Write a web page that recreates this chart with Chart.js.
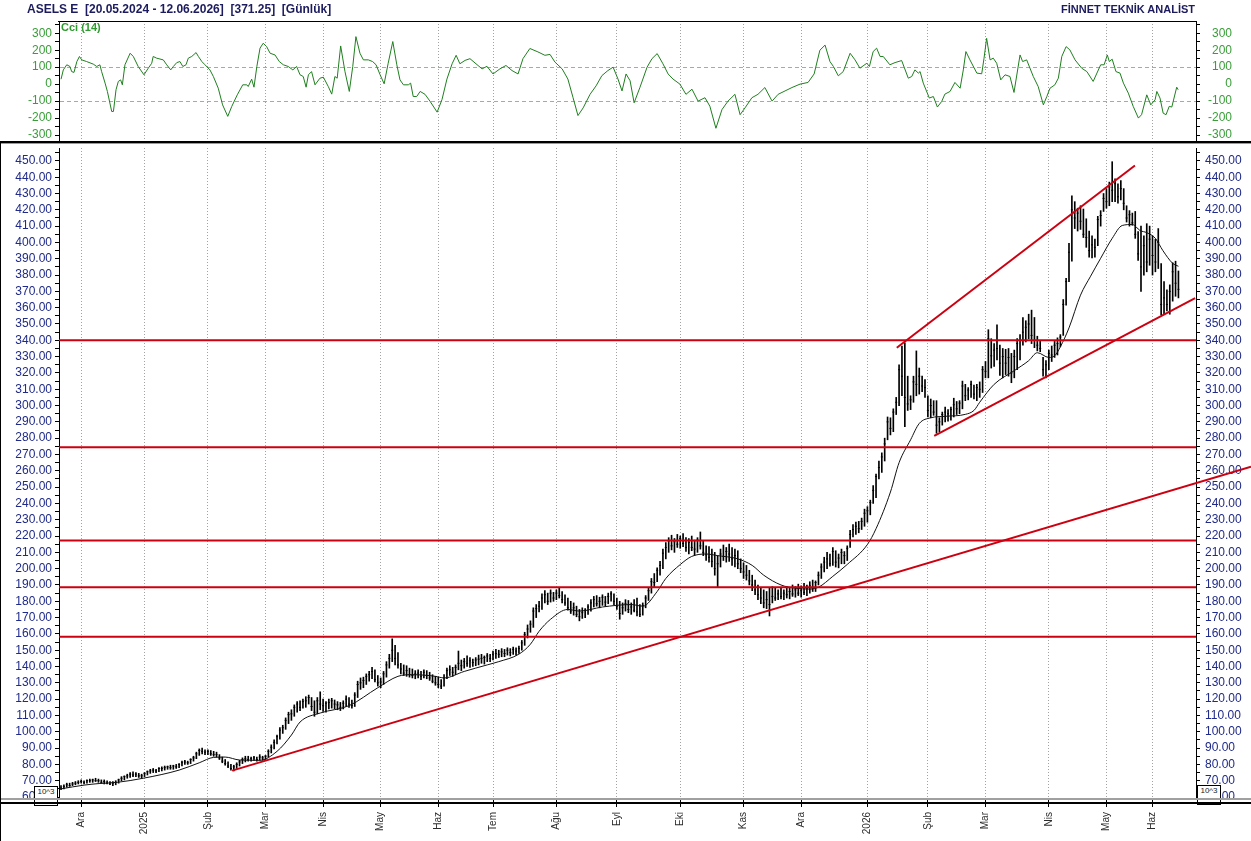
<!DOCTYPE html>
<html lang="tr">
<head>
<meta charset="utf-8">
<title>ASELS E</title>
<script src="https://cdn.jsdelivr.net/npm/chart.js@4.4.1/dist/chart.umd.min.js"></script>
<style>
  body { margin: 0; width: 1251px; height: 841px; overflow: hidden; position: relative; background: #fff; font-family: "Liberation Sans", Arial, sans-serif; }
  canvas, .line, .txt, .box { position: absolute; }
  #cci { left: 0; top: 0; }
  #price { left: 0; top: 143px; }
  .txt { font-weight: bold; white-space: pre; line-height: 14px; }
  .box { width: 22px; height: 18px; border: 1px solid #000; background: #fff; font-size: 8px; line-height: 9px; text-align: center; color: #222; }
</style>
</head>
<body>
<canvas id="cci" width="1251" height="141"></canvas>
<canvas id="price" width="1251" height="698"></canvas>

<div class="txt" style="left:27px;top:2px;font-size:12px;color:#1b1b5e">ASELS E  [20.05.2024 - 12.06.2026]  [371.25]  [Günlük]</div>
<div class="txt" style="right:56px;top:2px;font-size:11px;color:#1b1b5e">FİNNET TEKNİK ANALİST</div>
<div class="txt" style="left:61px;top:21px;font-size:11px;line-height:12px;color:#2f9a2f">Cci (14)</div>

<div class="line" style="left:58px;top:21px;width:1139px;height:1px;background:#000"></div>
<div class="line" style="left:0;top:141px;width:1251px;height:2px;background:#000"></div>
<div class="line" style="left:0;top:143px;width:1251px;height:1px;background:#9a9a9a"></div>
<div class="box" style="left:34px;top:786px">10^3</div>
<div class="box" style="left:1197px;top:785px">10^3</div>
<div class="line" style="left:0;top:798px;width:1251px;height:2px;background:#a0a0a0"></div>
<div class="line" style="left:0;top:802px;width:1251px;height:2px;background:#000"></div>
<div class="line" style="left:0;top:143px;width:1px;height:698px;background:#000"></div>

<script>
// trading-day index of the first bar of each month, and its label
const monthStarts = [7, 29, 51, 71, 91, 111, 131, 150, 172, 193, 215, 237, 257, 280, 301, 321, 343, 363, 379];
const monthLabels = ['Ara', '2025', 'Şub', 'Mar', 'Nis', 'May', 'Haz', 'Tem', 'Ağu', 'Eyl', 'Eki', 'Kas', 'Ara', '2026', 'Şub', 'Mar', 'Nis', 'May', 'Haz'];

// daily bars (one per trading day)
const highs = [
  67,67.5,68.5,68.5,69,69.5,70,70.5,70,70.5,
  71,71,71.5,71,70.5,70.5,70,69.5,69.5,70,
  71,72.5,73,74,75,75.5,75,74.5,74,75,
  76,77,77.5,77,78,78.5,79,79,79.5,79.5,
  80,80.5,82,82.5,82,83.5,85,87.5,89.5,90,
  89,89,88.5,88,87.5,86,84.5,83,81.5,80,
  79.5,81,82.5,84,85,85,84.5,85,84.5,86,
  85,85.5,89,92,95,98,102.5,104,108.5,112,
  113.5,116.5,118.5,119,120,121.5,122.5,121,119,121,
  124.5,120,118.5,120,120.5,119.5,118.5,118,119,122,
  121,119.5,124,131,133,133.5,135.5,137,139.5,138,
  134.5,133,137,143,147.5,157,153,148.5,142,141,
  140.5,139,138.5,137.5,138,137,138,137.5,136.5,135,
  134,133.5,132,135,139,140.5,139.5,141,149.5,144,
  145,146.5,145.5,144.5,145.5,147,147.5,146.5,148,147.5,
  149.5,150.5,150,151,150.5,151.5,151,152,151.5,152.5,
  156,161,165.5,168,176,178,180,184.5,186.5,185,
  187,185.5,187,188,186,184,182,180,179,177,
  175,176,175.5,178,181,183,183.5,182.5,184,183,
  185,186,184.5,182,180,179,181,180.5,179,181,
  182,178,179,183.5,188,194,197,200.5,204.5,212,
  216,219,220.5,218.5,221,220,221.5,219,218.5,220,
  217.5,219,222.5,217,214,213.5,212,210,208,212,
  214.5,213,215,213,212,211,206,203.5,202,199,
  196,193,190,188.5,187,186,188,189,188.5,187,
  188,187,189,188.5,190,189,190.5,189.5,191,190,
  192,193,192.5,198,203,207,210,209,213,211,
  209,212,210.5,214,223.5,227,228.5,229,231,236.5,
  238,242,251,258,266,271,280,293,292.5,298,
  305,325,336.5,338.5,318,306,318,333.5,323,318,
  316,306,304,303,303,292.5,296,299,297.5,299,
  304.5,302.5,303,315,313,311,315,312.5,313,314.5,
  324,327,346.5,341,338,349.5,337,335,334.5,335,
  332,334,341,343.5,354,352,356,358.5,354,342.5,
  340,329.5,327.5,334,336.5,340,341.5,343.5,365,378,
  399.5,428.5,425,421,422.5,420.5,414.5,407,404,402,
  416,419.5,430,433,437,449.5,439,436,438,433,
  422.5,419.5,418,419,406.7,410,404,411.5,410,404,
  402,408.5,387,376,371,374,387.5,388.5,382.5
];
const lows = [
  64.5,65,66,66.5,67,67.5,68,68.5,68,68.5,
  69,69,69.5,69,68.5,68,68,67.5,67,67.5,
  68.5,70,70.5,71.5,72,72.5,72.5,72,71.5,72.5,
  73.5,74.5,75,75,75.5,76,76.5,77,77,77,
  77.5,78,79,80,80,80.5,82,83.5,85.5,86.5,
  86,86,85.5,85,84.5,83,81,79.5,78,76.5,
  76,77.5,79,80.5,81.5,82,82,82.5,82,82.5,
  82.5,83,84.5,87,89.5,92.5,95.5,99,101.5,105,
  107,109.5,112,113,114.5,115,117,113,109.5,111,
  113.5,112.5,112,114,114.5,114,113.5,113,114,115.5,
  115,114.5,115.5,121,126,127,129,131,132.5,130.5,
  128,127,129,133.5,139,143,141,139,135.5,134.5,
  134,133.5,133,132.5,133,132,133,132.5,131.5,130,
  128.5,127,126.5,128,132.5,134.5,134,135,138,137.5,
  139,140,139.5,140,140.5,141,142,141.5,143,143,
  144,145,145.5,146,146,147,146.5,147.5,147,148,
  150,153,157.5,161,164,170,173.5,175,179,178,
  179.5,180,181,182,179,177.5,174.5,172.5,171.5,170.5,
  168,169.5,170,172,174,176.5,177,176,177.5,177,
  178.5,180,178,175,169,172,174,173,172,173.5,
  171,170.5,171.5,176,180.5,185,189,192,196,200,
  206,210,211.5,210,213,212.5,213.5,210.5,209,211,
  208,210,212,208,205,204,201,196,189,201,
  205,204,204.5,202,201,200,197.5,194,193,190,
  186.5,184,181,178.5,176,175.5,171,179,180.5,181,
  181.5,181,182,181.5,183,182.5,183.5,182.5,184,183.5,
  185,186,186,190,194,198,200,201.5,202,201,
  200.5,203,203,205,213,219.5,221,222,224,226,
  228.5,233,240,243.5,255,259,266,279,282,284,
  294.5,300,306,287,297,297.5,302,306,307,308.5,
  305,293,292.5,294,283,284,288,290,290.5,291,
  293,294.5,295,298,303,303.5,305,304,303,305,
  308,317,317,323,324,328,318.5,317,319,318,
  314,317,322,328,337,339,341,338,335.5,333.5,
  333,318,317,322,327,329.5,331,336,343,361.5,
  376,388.5,408.5,407,408,403,397,391,390.5,391,
  398,410,419,421,422.5,425,425,424,426,420,
  412.5,410,410.5,402.5,389,370,380,382,386,380,
  382,384,355.5,356,358,356,364,367,366
];
const closes = [
  65.5,66.5,67.5,67,68,68.5,69,69.5,69,70,
  70,70.5,70,70,69,69.5,68.5,68,68.5,69,
  70.5,71.5,72.5,73,74,73.5,74,73,73,74.5,
  75.5,76,76.5,76,77.5,77.5,78,78.5,78,79,
  78.5,80,81,81.5,81,83,84,86.5,88.5,88,
  87.5,88,86.5,86,86,84,82,80.5,79,77.5,
  78.5,80,81.5,83,83.5,83,83.5,84,83,84.5,
  84,85,88,90.5,93.5,97,101,102.5,107,110.5,
  111,115,117,115,118.5,119,121,115.5,112,119,
  117,116,117.5,118,119,117,116.5,115,117.5,120,
  117,116,122.5,129,130,131.5,134,135,137,132,
  130,130.5,135.5,141,145,150,145,141,138.5,136,
  137.5,135,134.5,135.5,136,134,136.5,134.5,133,131,
  130,129,128,133,137.5,138,136.5,139.5,142,140.5,
  143,142,143.5,142.5,144,144.5,145,145.5,146.5,145,
  147.5,148,147.5,149,148,150,148.5,150.5,149.5,151,
  154.5,159.5,163,166,174,175.5,177,182,184,180,
  185,182,185,183.5,181,179,176,174,176,172,
  170.5,173,174.5,176.5,179,181,178.5,180,182.5,179.5,
  183,184.5,180,177,172.5,176,178.5,175,176.5,174.5,
  173.5,172,177.5,182,186.5,192,191.5,199,202,209.5,
  213,217,214,216.5,215,218.5,215.5,213,216,213,
  212,217.5,214,210,208.5,207,204.5,200,203,209,
  207.5,210.5,209,206,208,203,200,198,196,192.5,
  190,187,184,182,179,181,178,183,182,184.5,
  183,185,184,186,184.5,187,185,186.5,185.5,188,
  189.5,188,191.5,196,201,204,206,203,210.5,204,
  206.5,210,208,212.5,221,224,226,224.5,229,234,
  235.5,240.5,248,256.5,262,268.5,276.5,290,286,296,
  302,322,318,305,301,303.5,314.5,313,318,312,
  311,297,300,296,288,290,294.5,296,295,297.5,
  300.5,298,301.5,312,306,309.5,313,307,311,310,
  322,321,341,330.5,334,335,326,330,326,329.5,
  320,330,338,340,345,348,350,343,340,337,
  335,322,325,332,331,337,338,342,362,376,
  394,420,415,418,413,405,403,395,398.5,397,
  414,416.5,427,425,434,432,436,428,433,424,
  415,417,412,405,393,385,398,388,402,392,
  388,400,362,366,362,370,382,375,371.25
];

// moving average, read as [bar, value]
const maPoints = [
  [0,65],[8,67.3],[13.5,68.3],[19.5,69],[28.5,71.5],[41,76.5],[48,81],[53,84.3],[57,84.5],[62,82.7],
  [69,82.5],[75,88],[80,98],[83,106],[90,111.5],[100,116],[110,127],[117,134],[122,135],[130,134],
  [133,133],[140,137],[148,141],[152,143],[159,147.6],[163,153.7],[166,161.6],[170,169],[176,175],[180,174],
  [188,176.5],[198,178],[202,177],[207,186],[210,194],[215,202.5],[219,207.5],[224,209],[228,208],[235,206],
  [240,202],[244,196],[250,190],[255,188],[260,187.5],[263,188.6],[268,195.3],[273,202.6],[280,214.8],[283,224.5],
  [288,247],[291,265],[295,279],[298,289],[302,292.5],[307,293.4],[314,294.6],[317,297],[319,302],[324,313],
  [331,321.4],[336,327.5],[339,332.4],[343,329.5],[345,330.5],[347,336],[350,347.6],[354,367.7],[357.5,379.3],[361,390.3],
  [365,402.5],[368.5,410.4],[372,411],[374.7,407.3],[377,406],[380,402.5],[382.6,395],[386,387.2],[388,385.4]
];

// CCI(14), read as [bar, value]
const cciPoints = [
  [0,29],[0.8,84],[2,114],[3.1,104],[3.7,74],[4.5,69],[5.5,133],[6.4,163],[7.2,143],[8.9,133],
  [11.2,118],[12.4,104],[13.5,114],[14.1,74],[15.3,6],[16.1,-43],[17.6,-161],[18.2,-161],[19.1,-33],[19.9,16],
  [20.7,25],[21.3,-4],[22.2,114],[24,182],[25.1,163],[26.8,104],[28.8,55],[30.3,94],[31.5,123],[32,163],
  [33.2,153],[35.5,143],[36.7,114],[38.1,84],[39,104],[40.2,127],[41.3,133],[42.3,104],[43.4,114],[44.2,153],
  [45.4,163],[46.9,186],[47.7,163],[48.9,133],[50,114],[51.7,84],[52.9,45],[54.6,-24],[56.1,-122],[57.9,-190],
  [59.3,-131],[61.2,-63],[63.1,-4],[64.5,-4],[65,-14],[66.2,29],[67,-18],[68,104],[69.1,212],[70.2,241],
  [71.4,221],[72.6,182],[74.3,172],[75.8,133],[77.2,114],[78.9,104],[80.5,84],[81.8,104],[83,55],[84.1,45],
  [85.1,-18],[85.9,55],[87,74],[88.2,-4],[89.9,35],[91.1,41],[92.8,-14],[94,-59],[95.1,45],[95.9,35],
  [97.1,225],[98.6,74],[100.1,-43],[101.3,104],[102.4,280],[103.8,182],[105,143],[106.7,143],[108.2,133],[109.4,114],
  [110.8,55],[112.2,2],[113.6,123],[115.2,251],[116.6,114],[117.7,25],[118.9,-4],[120.6,-4],[121.4,6],[122.3,-73],
  [123.5,-73],[124.7,-43],[126.4,-60],[128.1,-100],[130.6,-165],[132.3,-90],[134,30],[135.8,120],[137.2,170],[138.5,120],
  [140.3,140],[142,150],[144.1,120],[146.2,90],[147.9,105],[150,60],[152.4,90],[154.5,110],[156.6,80],[158.7,60],
  [160.4,150],[162.8,210],[165.6,190],[168,170],[169.8,175],[171.5,130],[174,90],[176,30],[177.8,-80],[179.5,-185],
  [181.3,-140],[183.7,-60],[185.8,-10],[187.8,50],[189.9,80],[191.7,100],[193.4,30],[194.8,-40],[196.2,60],[197.6,20],
  [199,-110],[201,-20],[203.5,100],[205.2,150],[207,180],[209,120],[210.8,60],[212.5,30],[214.9,0],[217,-60],
  [219.1,-30],[221.2,-100],[223.6,-80],[225.3,-130],[227.4,-260],[229.5,-150],[231.6,-100],[234,-60],[235.8,-180],[237.5,-140],
  [239.9,-80],[242,-60],[244.4,-20],[246.9,-100],[249,-60],[251.4,-40],[253.8,-20],[256.6,0],[259.4,10],[261.5,60],
  [263.5,200],[265.3,230],[267,133],[268.2,104],[269.9,49],[271.6,74],[274,182],[275.7,143],[277.4,94],[279.8,123],
  [280.7,104],[282,192],[283.2,212],[284.4,163],[285.5,163],[287.8,114],[289.6,127],[291.9,139],[294.2,35],[295.4,45],
  [296.5,84],[297.7,65],[298.3,74],[299.4,6],[301.5,-82],[302.9,-73],[304.3,-135],[305.8,-102],[306.9,-59],[308.7,-43],
  [310.4,10],[312.2,-24],[313.3,84],[314.2,192],[315.6,143],[318,65],[319.7,61],[320.5,153],[321.4,270],[322.6,143],
  [323.7,153],[324.9,123],[326.3,25],[327.8,55],[329.5,45],[330.9,-49],[333,172],[333.9,133],[335.3,143],[337.6,45],
  [339.3,-14],[341.1,-122],[342.3,-73],[343.4,-24],[345.1,-4],[346.3,35],[347.5,163],[349,221],[350.3,202],[352.1,143],
  [354.4,94],[356.2,74],[358.4,16],[361,114],[362.2,114],[363.3,172],[364,133],[365,147],[366.3,74],[367.7,65],
  [368.9,6],[370.6,-53],[372.3,-131],[374.1,-200],[375.2,-180],[377,-63],[378.4,-122],[379.9,-92],[380.5,-43],[381.6,-82],
  [382.7,-171],[383.7,-180],[384.8,-131],[385.7,-135],[387.4,-18],[387.9,-33]
];

// red support / resistance levels and trend lines ([bar, price] ends)
const levels = [340, 274.5, 217.2, 188.6, 158.3];
const trendLines = [
  [[59.4, 76.2], [413.2, 262.5]],
  [[290.2, 335.4], [372.9, 447.2]],
  [[303.2, 281.4], [393.8, 365.9]]
];

const xMin = -0.7, xMax = 394.1;
const red = '#cc0010';

Chart.defaults.font.family = '"Liberation Sans", Arial, sans-serif';
Chart.defaults.animation = false;

function monthAxis(withLabels) {
  return {
    type: 'linear', min: xMin, max: xMax, offset: false,
    afterBuildTicks: s => { s.ticks = monthStarts.map(v => ({ value: v })); },
    afterFit: s => { s.height = withLabels ? 43 : 0; s.paddingLeft = 0; s.paddingRight = 0; },
    grid: { color: '#a2a2a2', offset: false, drawTicks: withLabels, tickLength: 9, tickColor: '#000' },
    border: { display: false, dash: [1, 2] },
    ticks: {
      display: withLabels, autoSkip: false, minRotation: 90, maxRotation: 90, padding: 5,
      color: '#2b2b2b', font: { size: 10 },
      callback: v => { const k = monthStarts.indexOf(v); return k < 0 ? '' : monthLabels[k]; }
    }
  };
}

function valueAxis(side, lo, hi, step, fmt, color, width) {
  return {
    type: 'linear', position: side, min: lo, max: hi,
    afterBuildTicks: s => {
      const t = [];
      for (let v = Math.ceil(lo / step) * step; v <= hi; v += step) t.push({ value: v });
      s.ticks = t;
    },
    afterFit: s => { s.width = width; s.paddingTop = 0; s.paddingBottom = 0; },
    ticks: { autoSkip: false, color: color, font: { size: 12 }, padding: side === 'left' ? 3 : 5, callback: fmt },
    grid: { drawOnChartArea: false, tickLength: 4, tickColor: '#000' },
    border: { color: '#000' }
  };
}

const cciLabel = v => (v % 100 === 0 ? String(v) : '');
const cciLeft = valueAxis('left', -335, 372, 50, cciLabel, '#3a9d3a', 59);
cciLeft.grid = {
  drawOnChartArea: true, tickLength: 4, tickColor: '#000',
  color: c => (c.tick && Math.abs(c.tick.value) === 100 ? '#a8a8a8' : 'rgba(0,0,0,0)')
};
cciLeft.border = { color: '#000', dash: [4, 3] };
// right-hand CCI labels are right aligned, ending near x = 1232
const cciRight = valueAxis('right', -335, 372, 50, cciLabel, '#3a9d3a', 36);
cciRight.ticks.crossAlign = 'far';

new Chart(document.getElementById('cci'), {
  type: 'line',
  data: {
    datasets: [{
      data: cciPoints.map(p => ({ x: p[0], y: p[1] })),
      borderColor: '#1f7f1f', borderWidth: 1, pointRadius: 0, tension: 0
    }]
  },
  options: {
    responsive: false, events: [],
    layout: { padding: { top: 21, right: 19 } },
    plugins: { legend: { display: false }, tooltip: { enabled: false } },
    scales: {
      x: monthAxis(false),
      y: cciLeft,
      y2: cciRight
    }
  }
});

const priceLabel = v => (Math.round(v) % 10 === 0 ? v.toFixed(2) : '');

const lineSets = levels.map(l => ({
  type: 'line', data: [{ x: xMin, y: l }, { x: xMax, y: l }],
  borderColor: red, borderWidth: 2, pointRadius: 0
})).concat(trendLines.map(t => ({
  type: 'line', data: t.map(p => ({ x: p[0], y: p[1] })),
  borderColor: red, borderWidth: 2, pointRadius: 0, clip: false
})));

new Chart(document.getElementById('price'), {
  type: 'bar',
  data: {
    datasets: lineSets.concat([
      {
        type: 'line', data: maPoints.map(p => ({ x: p[0], y: p[1] })),
        borderColor: '#111', borderWidth: 1, pointRadius: 0, cubicInterpolationMode: 'monotone'
      },
      {
        type: 'line', data: closes.map((c, i) => ({ x: i, y: c })), showLine: false,
        pointStyle: 'line', pointRadius: 1, pointBorderWidth: 1, pointBorderColor: '#000'
      },
      {
        type: 'bar', data: highs.map((h, i) => ({ x: i, y: [lows[i], h] })),
        backgroundColor: '#000', barThickness: 1, borderWidth: 0, grouped: false
      }
    ])
  },
  options: {
    responsive: false, events: [],
    layout: { padding: { top: 1 } },
    plugins: { legend: { display: false }, tooltip: { enabled: false } },
    scales: {
      x: monthAxis(true),
      y: valueAxis('left', 59.4, 457.9, 5, priceLabel, '#1f2a8a', 59),
      y2: valueAxis('right', 59.4, 457.9, 5, priceLabel, '#1f2a8a', 55)
    }
  }
});
</script>
</body>
</html>
